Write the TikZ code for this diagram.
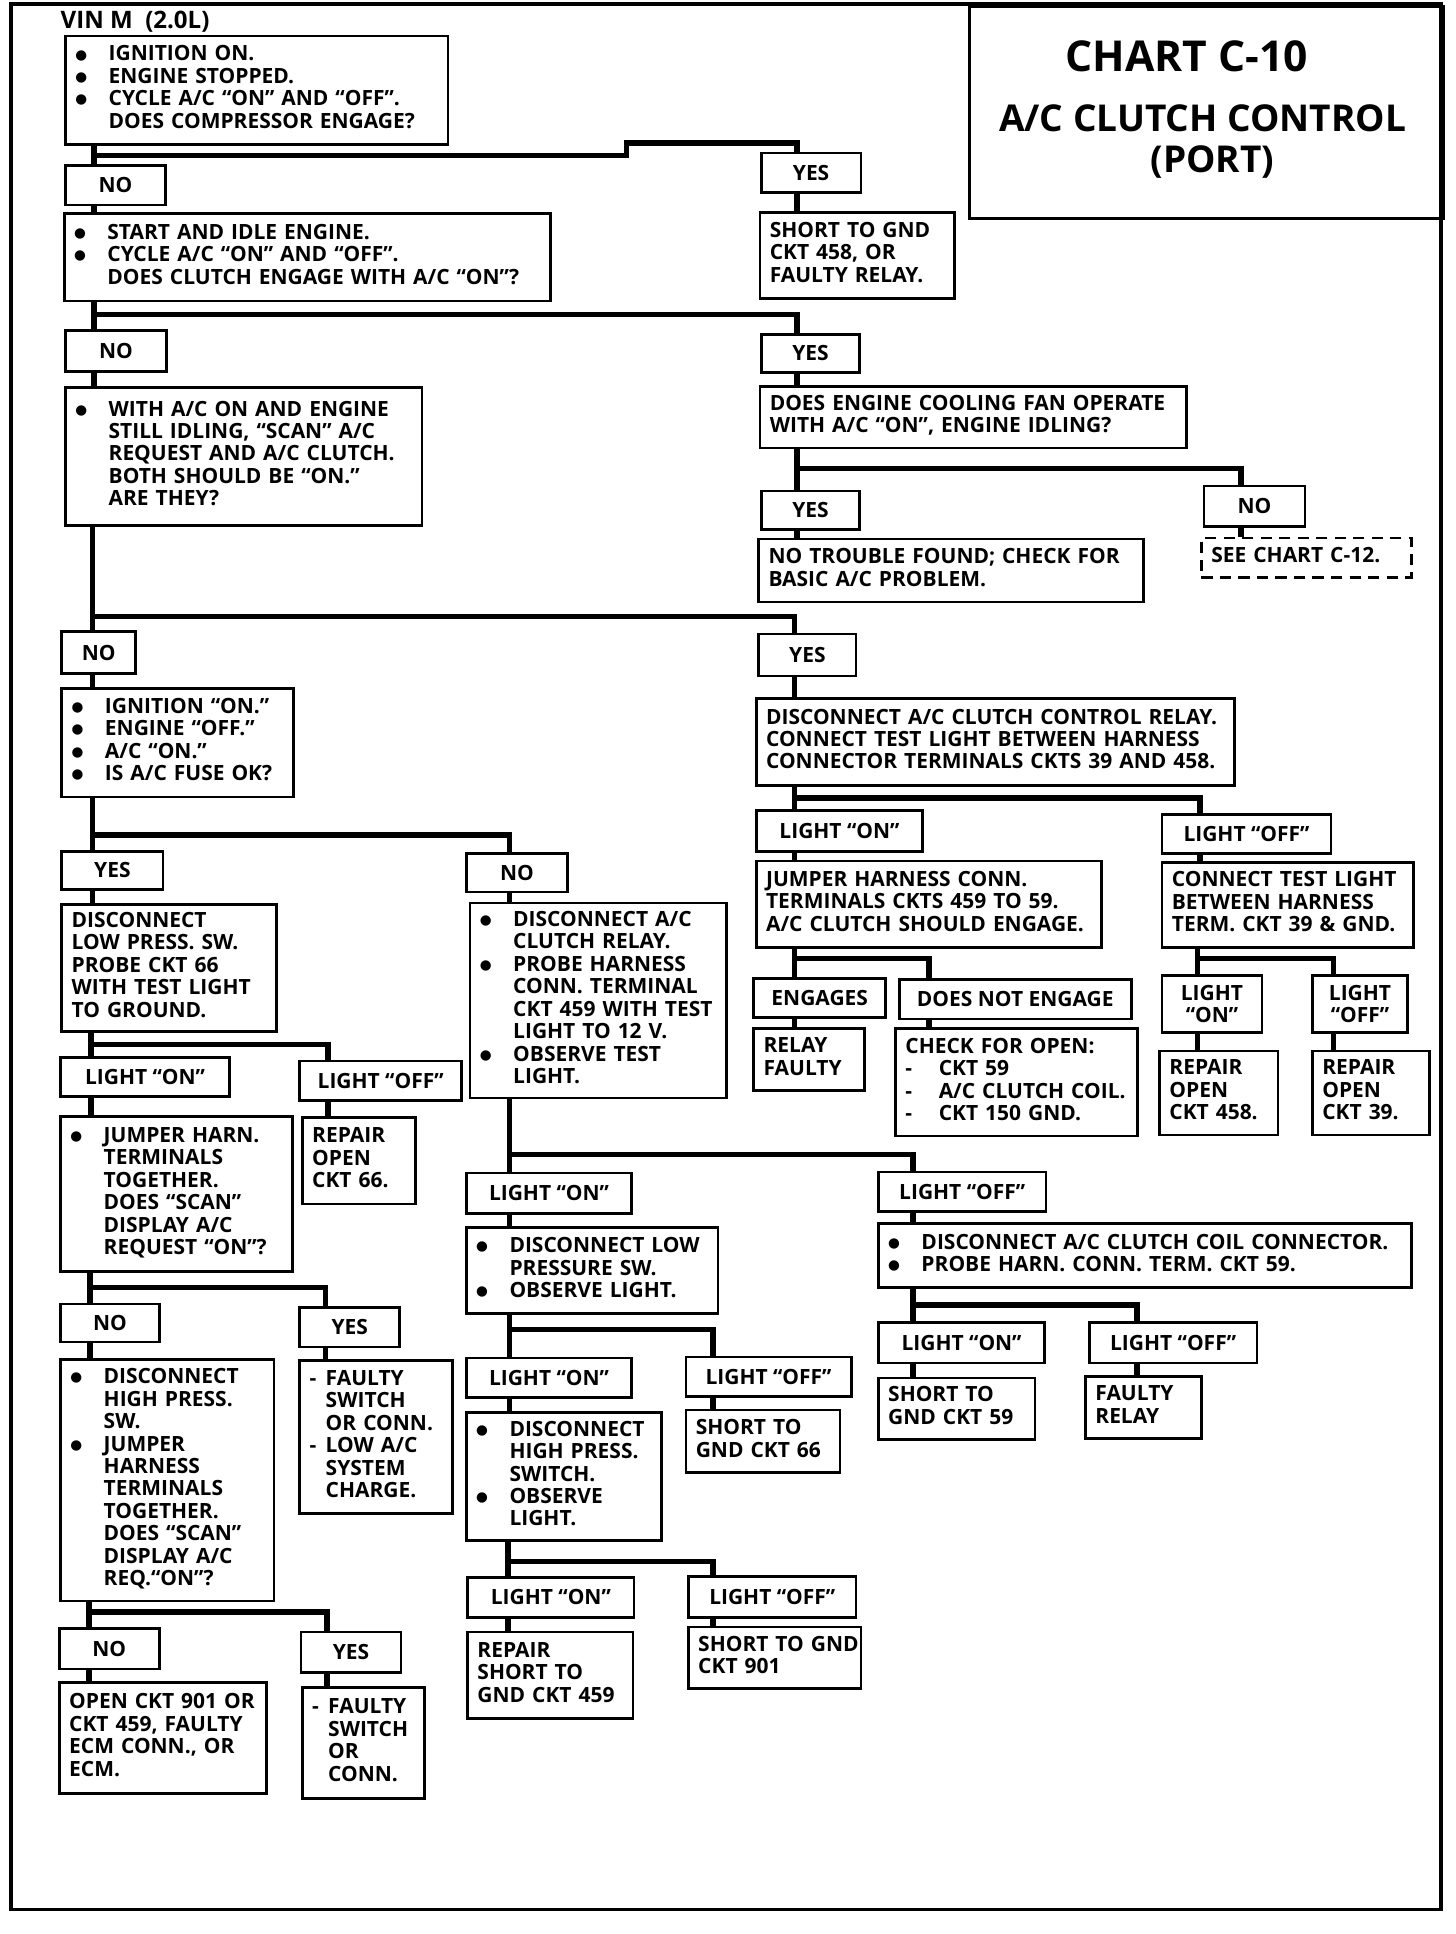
\documentclass[tikz,border=0pt]{standalone}
\usepackage{fontspec}
\setmainfont{Open Sans}
\newfontfamily\dotfont{DejaVu Sans}
\usetikzlibrary{calc}
\newcommand{\chartsize}{\fontsize{17}{18.2}\selectfont\bfseries}
\newcommand{\chartrows}[1]{\begin{tabular}{@{}l@{}}#1\end{tabular}}
\newcommand{\dotitem}{\makebox[27pt][l]{\raisebox{1.6pt}{\dotfont\fontsize{11}{12}\selectfont ●}}}
\newcommand{\dotgap}{\hspace*{27pt}}
\newcommand{\dashitem}{\makebox[27pt][l]{-}}
\newcommand{\baritem}{\makebox[13pt][l]{-}}
\newcommand{\bargap}{\hspace*{13pt}}
\tikzset{
  chartbox/.style={
    draw,
    line width=2.2pt,
    anchor=north west,
    align=left,
    inner xsep=8pt,
    inner ysep=0pt,
    font=\chartsize
  },
  charttag/.style={
    draw,
    line width=2.2pt,
    anchor=north west,
    inner sep=0pt,
    font=\chartsize
  },
  chartlink/.style={line width=4.5pt, line join=miter}
}
\begin{document}
\begin{tikzpicture}[x=1pt, y=-1pt]
  \useasboundingbox (0,0) rectangle (1180,1568);
  \draw[line width=3pt] (9,3) rectangle (1168,1548);

  % title block
  \node[draw, line width=2.2pt, anchor=north west, inner sep=0pt, minimum width=384, minimum height=172] (title) at (785,4) {};
  \node[anchor=base, inner sep=0pt, font=\fontsize{34.5}{40}\selectfont\bfseries] (tchart) at (962,58) {CHART C-10};
  \node[anchor=base, inner sep=0pt, font=\fontsize{30}{34}\selectfont\bfseries] (tname) at (975,107) {A/C CLUTCH CONTROL};
  \node[anchor=base, inner sep=0pt, font=\fontsize{30}{34}\selectfont\bfseries] (tport) at (983,140) {(PORT)};
  \node[anchor=base west, inner sep=0pt, font=\fontsize{19.5}{22}\selectfont\bfseries] (vin) at (49,23) {VIN M\ \ (2.0L)};

  % left column, first questions
  \node[chartbox, text width=294, minimum height=88] (q1) at (52,28) {\chartrows{\dotitem IGNITION ON.\\ \dotitem ENGINE STOPPED.\\ \dotitem CYCLE A/C ``ON'' AND ``OFF''.\\ \dotgap DOES COMPRESSOR ENGAGE?}};
  \node[charttag, minimum width=81, minimum height=32] (no1) at (52,133) {NO};
  \node[charttag, minimum width=81, minimum height=32] (yes1) at (616,123) {YES};
  \node[chartbox, text width=142, minimum height=70] (r1) at (615,171) {\chartrows{SHORT TO GND\\CKT 458, OR\\FAULTY RELAY.}};
  \node[chartbox, text width=378, minimum height=71] (q2) at (51,172) {\chartrows{\dotitem START AND IDLE ENGINE.\\ \dotitem CYCLE A/C ``ON'' AND ``OFF''.\\ \dotgap DOES CLUTCH ENGAGE WITH A/C ``ON''?}};
  \node[charttag, minimum width=82, minimum height=33] (no2) at (52,267) {NO};
  \node[charttag, minimum width=80, minimum height=31] (yes2) at (616,270) {YES};
  \node[chartbox, text width=273, minimum height=112] (q3) at (52,313) {\chartrows{\dotitem WITH A/C ON AND ENGINE\\ \dotgap STILL IDLING, ``SCAN'' A/C\\ \dotgap REQUEST AND A/C CLUTCH.\\ \dotgap BOTH SHOULD BE ``ON.''\\ \dotgap ARE THEY?}};
  \node[chartbox, text width=330, minimum height=50] (fan) at (615,312) {\chartrows{DOES ENGINE COOLING FAN OPERATE\\WITH A/C ``ON'', ENGINE IDLING?}};
  \node[charttag, minimum width=80, minimum height=31] (yes3) at (616,397) {YES};
  \node[charttag, minimum width=82, minimum height=33] (no3) at (975,393) {NO};
  \node[chartbox, text width=296, minimum height=51] (r2) at (614,436) {\chartrows{NO TROUBLE FOUND; CHECK FOR\\BASIC A/C PROBLEM.}};
  \node[chartbox, dashed, dash pattern=on 9pt off 6pt, text width=154, minimum height=32] (r3) at (973,435) {\chartrows{SEE CHART C-12.}};

  % second level
  \node[charttag, minimum width=60, minimum height=34] (no4) at (49,511) {NO};
  \node[charttag, minimum width=79, minimum height=34] (yes4) at (614,513) {YES};
  \node[chartbox, text width=172, minimum height=88] (q5) at (49,557) {\chartrows{\dotitem IGNITION ``ON.''\\ \dotitem ENGINE ``OFF.''\\ \dotitem A/C ``ON.''\\ \dotitem IS A/C FUSE OK?}};
  \node[chartbox, text width=372, minimum height=71] (q6) at (612,565) {\chartrows{DISCONNECT A/C CLUTCH CONTROL RELAY.\\CONNECT TEST LIGHT BETWEEN HARNESS\\CONNECTOR TERMINALS CKTS 39 AND 458.}};
  \node[charttag, minimum width=82, minimum height=31] (yes5) at (49,689) {YES};
  \node[charttag, minimum width=82, minimum height=31] (no5) at (377,691) {NO};
  \node[chartbox, text width=158, minimum height=103] (q7) at (49,732) {\chartrows{DISCONNECT\\LOW PRESS. SW.\\PROBE CKT 66\\WITH TEST LIGHT\\TO GROUND.}};
  \node[chartbox, text width=192, minimum height=158] (q8) at (380,731) {\chartrows{\dotitem DISCONNECT A/C\\ \dotgap CLUTCH RELAY.\\ \dotitem PROBE HARNESS\\ \dotgap CONN. TERMINAL\\ \dotgap CKT 459 WITH TEST\\ \dotgap LIGHT TO 12 V.\\ \dotitem OBSERVE TEST\\ \dotgap LIGHT.}};

  % relay test, right column
  \node[charttag, minimum width=135, minimum height=33] (on1) at (612,656) {LIGHT ``ON''};
  \node[charttag, minimum width=137, minimum height=32] (off1) at (941,659) {LIGHT ``OFF''};
  \node[chartbox, text width=264, minimum height=70] (q9) at (612,697) {\chartrows{JUMPER HARNESS CONN.\\TERMINALS CKTS 459 TO 59.\\A/C CLUTCH SHOULD ENGAGE.}};
  \node[chartbox, text width=188, minimum height=69] (q10) at (941,698) {\chartrows{CONNECT TEST LIGHT\\BETWEEN HARNESS\\TERM. CKT 39 \& GND.}};
  \node[charttag, minimum width=107, minimum height=32] (eng) at (610,792) {ENGAGES};
  \node[charttag, minimum width=188, minimum height=32] (dne) at (728,793) {DOES NOT ENGAGE};
  \node[chartbox, text width=74, minimum height=50] (r4) at (610,833) {\chartrows{RELAY\\FAULTY}};
  \node[chartbox, text width=180, minimum height=87] (r5) at (725,833) {\chartrows{CHECK FOR OPEN:\\ \dashitem CKT 59\\ \dashitem A/C CLUTCH COIL.\\ \dashitem CKT 150 GND.}};
  \node[charttag, align=center, minimum width=81, minimum height=46] (on2) at (941,790) {LIGHT\\``ON''};
  \node[charttag, align=center, minimum width=77, minimum height=46] (off2) at (1063,790) {LIGHT\\``OFF''};
  \node[chartbox, text width=80, minimum height=68] (r6) at (939,851) {\chartrows{REPAIR\\OPEN\\CKT 458.}};
  \node[chartbox, text width=79, minimum height=68] (r7) at (1063,851) {\chartrows{REPAIR\\OPEN\\CKT 39.}};

  % low pressure switch branch
  \node[charttag, minimum width=137, minimum height=32] (on3) at (48,856) {LIGHT ``ON''};
  \node[charttag, minimum width=131, minimum height=32] (off3) at (242,859) {LIGHT ``OFF''};
  \node[chartbox, text width=172, minimum height=126] (q11) at (48,904) {\chartrows{\dotitem JUMPER HARN.\\ \dotgap TERMINALS\\ \dotgap TOGETHER.\\ \dotgap DOES ``SCAN''\\ \dotgap DISPLAY A/C\\ \dotgap REQUEST ``ON''?}};
  \node[chartbox, text width=76, minimum height=70] (r8) at (244,905) {\chartrows{REPAIR\\OPEN\\CKT 66.}};
  \node[charttag, minimum width=80, minimum height=31] (no6) at (48,1056) {NO};
  \node[charttag, minimum width=81, minimum height=32] (yes6) at (242,1059) {YES};
  \node[chartbox, text width=157, minimum height=196] (q12) at (48,1101) {\chartrows{\dotitem DISCONNECT\\ \dotgap HIGH PRESS.\\ \dotgap SW.\\ \dotitem JUMPER\\ \dotgap HARNESS\\ \dotgap TERMINALS\\ \dotgap TOGETHER.\\ \dotgap DOES ``SCAN''\\ \dotgap DISPLAY A/C\\ \dotgap REQ.``ON''?}};
  \node[chartbox, text width=108, minimum height=124] (r9) at (242,1102) {\chartrows{\baritem FAULTY\\ \bargap SWITCH\\ \bargap OR CONN.\\ \baritem LOW A/C\\ \bargap SYSTEM\\ \bargap CHARGE.}};
  \node[charttag, minimum width=81, minimum height=33] (no7) at (47,1319) {NO};
  \node[charttag, minimum width=81, minimum height=33] (yes7) at (243,1322) {YES};
  \node[chartbox, text width=152, minimum height=90] (r10) at (47,1363) {\chartrows{OPEN CKT 901 OR\\CKT 459, FAULTY\\ECM CONN., OR\\ECM.}};
  \node[chartbox, text width=83, minimum height=90] (r11) at (244,1367) {\chartrows{\baritem FAULTY\\ \bargap SWITCH\\ \bargap OR\\ \bargap CONN.}};

  % relay probe branch, middle column
  \node[charttag, minimum width=134, minimum height=33] (on4) at (377,950) {LIGHT ``ON''};
  \node[charttag, minimum width=136, minimum height=32] (off4) at (711,949) {LIGHT ``OFF''};
  \node[chartbox, text width=188, minimum height=70] (q13) at (377,994) {\chartrows{\dotitem DISCONNECT LOW\\ \dotgap PRESSURE SW.\\ \dotitem OBSERVE LIGHT.}};
  \node[chartbox, text width=416, minimum height=52] (q14) at (711,991) {\chartrows{\dotitem DISCONNECT A/C CLUTCH COIL CONNECTOR.\\ \dotitem PROBE HARN. CONN. TERM. CKT 59.}};
  \node[charttag, minimum width=134, minimum height=32] (on5) at (377,1100) {LIGHT ``ON''};
  \node[charttag, minimum width=134, minimum height=32] (off5) at (555,1099) {LIGHT ``OFF''};
  \node[chartbox, text width=142, minimum height=104] (q15) at (377,1144) {\chartrows{\dotitem DISCONNECT\\ \dotgap HIGH PRESS.\\ \dotgap SWITCH.\\ \dotitem OBSERVE\\ \dotgap LIGHT.}};
  \node[chartbox, text width=109, minimum height=51] (r12) at (555,1142) {\chartrows{SHORT TO\\GND CKT 66}};
  \node[charttag, minimum width=135, minimum height=32] (on6) at (378,1278) {LIGHT ``ON''};
  \node[charttag, minimum width=136, minimum height=33] (off6) at (557,1277) {LIGHT ``OFF''};
  \node[chartbox, text width=118, minimum height=70] (r13) at (378,1322) {\chartrows{REPAIR\\SHORT TO\\GND CKT 459}};
  \node[chartbox, text width=124, minimum height=50] (r14) at (557,1318) {\chartrows{SHORT TO GND\\CKT 901}};
  \node[charttag, minimum width=135, minimum height=33] (on7) at (711,1071) {LIGHT ``ON''};
  \node[charttag, minimum width=136, minimum height=33] (off7) at (882,1071) {LIGHT ``OFF''};
  \node[chartbox, text width=111, minimum height=50] (r15) at (711,1116) {\chartrows{SHORT TO\\GND CKT 59}};
  \node[chartbox, text width=78, minimum height=50] (r16) at (879,1115) {\chartrows{FAULTY\\RELAY}};

  % junction points of the flow lines
  \coordinate (j1) at (76,126);   \coordinate (k1) at (646,116);
  \coordinate (j2) at (76,255);
  \coordinate (j3) at (646,380);  \coordinate (k3) at (1006,380);
  \coordinate (j4) at (75,500);   \coordinate (k4) at (644,500);
  \coordinate (j5) at (75,677);   \coordinate (k5) at (413,677);
  \coordinate (j6) at (644,647);  \coordinate (k6) at (973,647);
  \coordinate (j7) at (644,777);  \coordinate (k7) at (753,777);
  \coordinate (j8) at (971,777);  \coordinate (k8) at (1081,777);
  \coordinate (j9) at (74,847);   \coordinate (k9) at (266,847);
  \coordinate (j10) at (73,1044); \coordinate (k10) at (264,1044);
  \coordinate (j11) at (72,1307); \coordinate (k11) at (265,1307);
  \coordinate (j12) at (413,936); \coordinate (k12) at (740,936);
  \coordinate (j13) at (413,1078); \coordinate (k13) at (578,1078);
  \coordinate (j14) at (412,1266); \coordinate (k14) at (578,1266);
  \coordinate (j15) at (740,1058); \coordinate (k15) at (922,1058);

  \draw[chartlink] (q1.south -| j1) -- (no1.north -| j1) (no1.south -| j1) -- (q2.north -| j1);
  \draw[chartlink] (j1) -- ++(432,0) |- (k1) -- (yes1.north -| k1) (yes1.south -| k1) -- (r1.north -| k1);
  \draw[chartlink] (q2.south -| j2) -- (no2.north -| j2) (no2.south -| j2) -- (q3.north -| j2);
  \draw[chartlink] (j2) -| (yes2.north -| k1) (yes2.south -| k1) -- (fan.north -| k1);
  \draw[chartlink] (fan.south -| j3) -- (yes3.north -| j3) (yes3.south -| j3) -- (r2.north -| j3);
  \draw[chartlink] (j3) -| (no3.north -| k3) (no3.south -| k3) -- (r3.north -| k3);
  \draw[chartlink] (q3.south -| j4) -- (no4.north -| j4) (no4.south -| j4) -- (q5.north -| j4);
  \draw[chartlink] (j4) -| (yes4.north -| k4) (yes4.south -| k4) -- (q6.north -| k4);
  \draw[chartlink] (q5.south -| j5) -- (yes5.north -| j5) (yes5.south -| j5) -- (q7.north -| j5);
  \draw[chartlink] (j5) -| (no5.north -| k5) (no5.south -| k5) -- (q8.north -| k5);
  \draw[chartlink] (q6.south -| j6) -- (on1.north -| j6) (on1.south -| j6) -- (q9.north -| j6);
  \draw[chartlink] (j6) -| (off1.north -| k6) (off1.south -| k6) -- (q10.north -| k6);
  \draw[chartlink] (q9.south -| j7) -- (eng.north -| j7) (eng.south -| j7) -- (r4.north -| j7);
  \draw[chartlink] (j7) -| (dne.north -| k7) (dne.south -| k7) -- (r5.north -| k7);
  \draw[chartlink] (q10.south -| j8) -- (on2.north -| j8) (on2.south -| j8) -- (r6.north -| j8);
  \draw[chartlink] (j8) -| (off2.north -| k8) (off2.south -| k8) -- (r7.north -| k8);
  \draw[chartlink] (q7.south -| j9) -- (on3.north -| j9) (on3.south -| j9) -- (q11.north -| j9);
  \draw[chartlink] (j9) -| (off3.north -| k9) (off3.south -| k9) -- (r8.north -| k9);
  \draw[chartlink] (q11.south -| j10) -- (no6.north -| j10) (no6.south -| j10) -- (q12.north -| j10);
  \draw[chartlink] (j10) -| (yes6.north -| k10) (yes6.south -| k10) -- (r9.north -| k10);
  \draw[chartlink] (q12.south -| j11) -- (no7.north -| j11) (no7.south -| j11) -- (r10.north -| j11);
  \draw[chartlink] (j11) -| (yes7.north -| k11) (yes7.south -| k11) -- (r11.north -| k11);
  \draw[chartlink] (q8.south -| j12) -- (on4.north -| j12) (on4.south -| j12) -- (q13.north -| j12);
  \draw[chartlink] (j12) -| (off4.north -| k12) (off4.south -| k12) -- (q14.north -| k12);
  \draw[chartlink] (q13.south -| j13) -- (on5.north -| j13) (on5.south -| j13) -- (q15.north -| j13);
  \draw[chartlink] (j13) -| (off5.north -| k13) (off5.south -| k13) -- (r12.north -| k13);
  \draw[chartlink] (q15.south -| j14) -- (on6.north -| j14) (on6.south -| j14) -- (r13.north -| j14);
  \draw[chartlink] (j14) -| (off6.north -| k14) (off6.south -| k14) -- (r14.north -| k14);
  \draw[chartlink] (q14.south -| j15) -- (on7.north -| j15) (on7.south -| j15) -- (r15.north -| j15);
  \draw[chartlink] (j15) -| (off7.north -| k15) (off7.south -| k15) -- (r16.north -| k15);
\end{tikzpicture}
\end{document}
